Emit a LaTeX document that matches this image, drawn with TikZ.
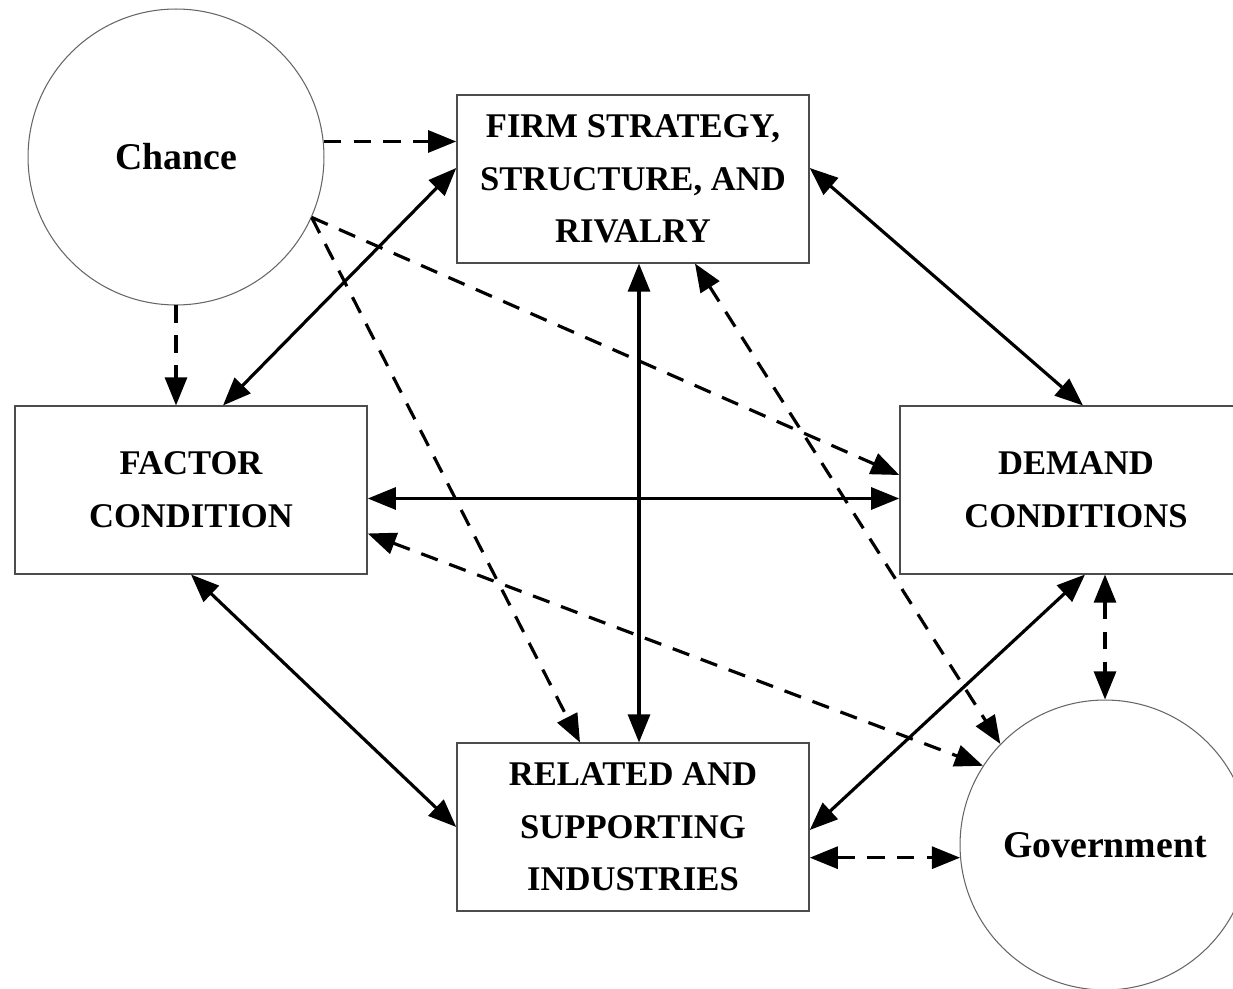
\documentclass[tikz,border=0pt]{standalone}
\usepackage{fontspec}
\setmainfont{Liberation Serif}
\usetikzlibrary{arrows.meta}

\begin{document}
\begin{tikzpicture}[x=0.02cm, y=-0.02cm,
    box/.style = {rectangle, draw=black!70, line width=0.9pt,
        minimum width=7.04cm, minimum height=3.35cm, align=center,
        font=\fontsize{19.7}{30}\selectfont\bfseries},
    force/.style = {circle, draw=black!60, line width=0.6pt, inner sep=0pt,
        font=\fontsize{21.5}{26}\selectfont\bfseries},
    both/.style = {line width=1.8pt,
        {Triangle[length=16pt,width=12.5pt]}-{Triangle[length=16pt,width=12.5pt]}},
    hint/.style = {line width=1.8pt, dash pattern=on 10pt off 7pt,
        -{Triangle[length=16pt,width=12.5pt]}},
    hints/.style = {hint,
        {Triangle[length=16pt,width=12.5pt]}-{Triangle[length=16pt,width=12.5pt]}}]

\useasboundingbox (0,0) rectangle (1233,989);

% Outside forces
\node[force,minimum size=5.92cm] (chance) at (176,157) {Chance};
\node[force,minimum size=5.8cm] (gov) at (1105,845) {Government};

% Diamond
\node[box] (firm) at (633,179) {FIRM STRATEGY,\\STRUCTURE, AND\\RIVALRY};
\node[box] (factor) at (191,490) {FACTOR\\CONDITION};
\node[box] (demand) at (1076,490) {DEMAND\\CONDITIONS};
\node[box] (related) at (633,827) {RELATED AND\\SUPPORTING\\INDUSTRIES};

% Solid links
\draw[both] ([yshift=0.22cm]firm.west) -- ([xshift=0.64cm]factor.north);
\draw[both] ([yshift=0.22cm]firm.east) -- ([xshift=0.14cm]demand.north);
\draw[both] ([xshift=0.12cm]firm.south) -- ([xshift=0.12cm]related.north);
\draw[both] ([yshift=-0.17cm]factor.east) -- ([yshift=-0.17cm]demand.west);
\draw[both] (factor.south) -- (related.west);
\draw[both] ([xshift=0.18cm]demand.south) -- ([yshift=-0.06cm]related.east);

% Chance
\draw[hint] (chance.6) -- (firm.west |- chance.6);
\draw[hint] (chance.south) -- (chance.south |- factor.north);
\draw[hint] (chance.-24) -- ([yshift=0.3cm]demand.west);
\draw[hint] (chance.-24) -- ([xshift=-1.06cm]related.north);

% Government
\draw[hints] ([yshift=-0.87cm]factor.east) -- (gov.147);
\draw[hints] ([xshift=1.24cm]firm.south) -- (gov.136);
\draw[hints] (gov.north |- demand.south) -- (gov.north);
\draw[hints] (gov.185 -| related.east) -- (gov.185);
\end{tikzpicture}
\end{document}
